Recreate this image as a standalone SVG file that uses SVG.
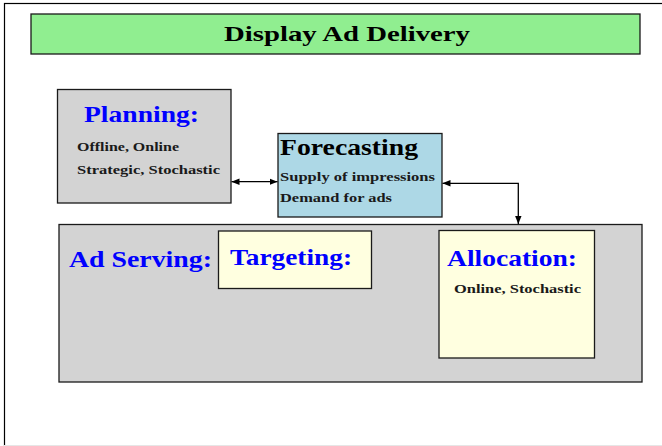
<svg xmlns="http://www.w3.org/2000/svg" width="662" height="446" viewBox="0 0 662 446">
  <style>
    .box { stroke: #1a1a1a; stroke-width: 1.3; }
    .t { font-family: "Liberation Serif", "DejaVu Serif", serif; font-weight: bold; }
    .head { font-size: 24px; fill: #0000ff; }
    .small { font-size: 12.5px; fill: #1a1a1a; }
    .conn { fill: none; stroke: #000; stroke-width: 1.3; }
  </style>
  <defs>
    <marker id="arr" viewBox="0 0 10 10" refX="10" refY="5" markerWidth="8" markerHeight="8" markerUnits="userSpaceOnUse" orient="auto-start-reverse">
      <path d="M0,1 L10,5 L0,9 Z" fill="#000"/>
    </marker>
  </defs>

  <!-- page frame: top and left edges, light bottom edge -->
  <rect x="4.5" y="3.5" width="670" height="450" fill="#fff" stroke="#000" stroke-width="1.2"/>
  <line x1="4" y1="445.5" x2="662" y2="445.5" stroke="#e6e6e6" stroke-width="1"/>

  <g id="title">
    <rect class="box" x="31" y="14" width="609" height="40" fill="#90ee90"/>
    <text class="t" x="347" y="41" font-size="22" fill="#000" text-anchor="middle" textLength="246" lengthAdjust="spacingAndGlyphs">Display Ad Delivery</text>
  </g>

  <g id="planning">
    <rect class="box" x="57.5" y="89.5" width="173.5" height="113.5" fill="#d3d3d3"/>
    <text class="t head" x="84" y="122" textLength="115" lengthAdjust="spacingAndGlyphs">Planning:</text>
    <text class="t small" x="77" y="151" textLength="102" lengthAdjust="spacingAndGlyphs">Offline, Online</text>
    <text class="t small" x="77" y="174" textLength="143" lengthAdjust="spacingAndGlyphs">Strategic, Stochastic</text>
  </g>

  <g id="forecasting">
    <rect class="box" x="278" y="133.5" width="164" height="83.5" fill="#add8e6"/>
    <text class="t" x="280" y="155" font-size="24" fill="#000" textLength="138" lengthAdjust="spacingAndGlyphs">Forecasting</text>
    <text class="t small" x="280" y="181" textLength="155" lengthAdjust="spacingAndGlyphs">Supply of impressions</text>
    <text class="t small" x="280" y="202" textLength="112" lengthAdjust="spacingAndGlyphs">Demand for ads</text>
  </g>

  <g id="ad-serving">
    <rect class="box" x="59" y="224.5" width="583" height="157.5" fill="#d3d3d3"/>
    <text class="t head" x="69" y="267" textLength="143" lengthAdjust="spacingAndGlyphs">Ad Serving:</text>
  </g>

  <g id="targeting">
    <rect class="box" x="218.5" y="231" width="153" height="57.5" fill="#ffffe0"/>
    <text class="t head" x="230" y="265" textLength="122" lengthAdjust="spacingAndGlyphs">Targeting:</text>
  </g>

  <g id="allocation">
    <rect class="box" x="439" y="230.5" width="155.5" height="127.5" fill="#ffffe0"/>
    <text class="t head" x="447" y="266" textLength="130" lengthAdjust="spacingAndGlyphs">Allocation:</text>
    <text class="t small" x="454" y="293" textLength="127" lengthAdjust="spacingAndGlyphs">Online, Stochastic</text>
  </g>

  <g id="connectors">
    <path class="conn" d="M231.5,181.7 L277.5,181.7" marker-start="url(#arr)" marker-end="url(#arr)"/>
    <path class="conn" d="M442.5,183.3 L518.3,183.3 L518.3,224" marker-start="url(#arr)" marker-end="url(#arr)"/>
  </g>
</svg>
